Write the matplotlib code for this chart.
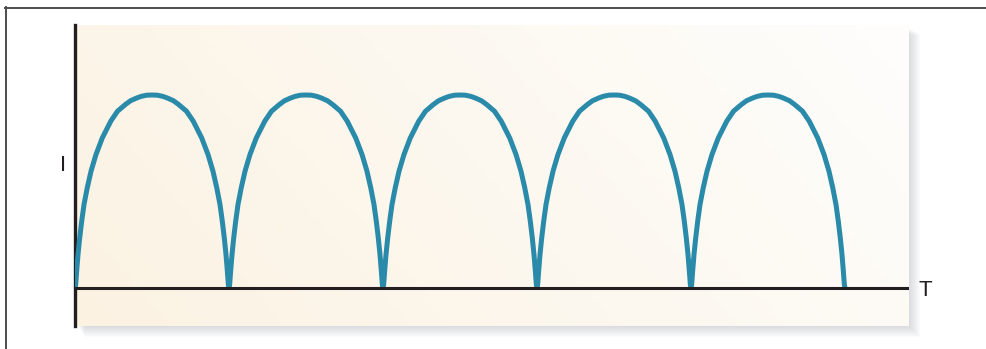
import numpy as np
import matplotlib
matplotlib.use("Agg")
import matplotlib.pyplot as plt
from matplotlib.patches import Rectangle
from matplotlib.lines import Line2D

# one rectified half cycle (T in periods, I relative to peak)
arch_t = [0.0, 0.0042, 0.0107, 0.0195, 0.0305, 0.0435, 0.0584, 0.0792, 0.104, 0.136,
          0.177, 0.232, 0.276, 0.326, 0.36, 0.399, 0.43, 0.465, 0.5,
          0.535, 0.57, 0.601, 0.64, 0.674, 0.724, 0.768, 0.823, 0.864, 0.896,
          0.9208, 0.9416, 0.9565, 0.9695, 0.9805, 0.9893, 0.9958, 1.0]
arch_i = [0.0, 0.017, 0.087, 0.173, 0.259, 0.346, 0.432, 0.518, 0.605, 0.691,
          0.777, 0.864, 0.916, 0.950, 0.970, 0.984, 0.993, 0.999, 1.0,
          0.999, 0.993, 0.984, 0.970, 0.950, 0.916, 0.864, 0.777, 0.691, 0.605,
          0.518, 0.432, 0.346, 0.259, 0.173, 0.087, 0.017, 0.0]
n_cycles = 5
x_label = "T"
y_label = "I"

W, H = 986, 349
fig = plt.figure(figsize=(W / 100, H / 100), dpi=100)
fig.patch.set_facecolor("white")

def px_box(x0, y0, x1, y1):
    return [x0 / W, 1 - y1 / H, (x1 - x0) / W, (y1 - y0) / H]

# outer frame (only left and top edges are inside the image)
fig.add_artist(Line2D([5.5 / W, 5.5 / W], [1 - 7 / H, 0], color="#4d4d4d", lw=1.4))
fig.add_artist(Line2D([5 / W, 1], [1 - 7.5 / H, 1 - 7.5 / H], color="#4d4d4d", lw=1.4))

# soft drop shadow of the panel
for k in range(1, 12):
    b = px_box(78 + k * 0.6, 28 + k * 0.6, 909 + k, 326 + k)
    fig.add_artist(Rectangle((b[0], b[1]), b[2], b[3], transform=fig.transFigure,
                             facecolor="#9aa3ad", alpha=0.035, edgecolor="none", zorder=0))

panel = px_box(75, 25, 909, 326)
ax = fig.add_axes(panel)

x_max = (909 - 75) / 154
y_min = -(326 - 288) / 193
y_max = (288 - 25) / 193

# warm-to-white gradient background
gx, gy = np.meshgrid(np.linspace(0, 1, 200), np.linspace(0, 1, 80))
g = np.clip(0.8 * gx + 0.25 * gy, 0, 1)
c0 = np.array([251, 242, 226]) / 255
c1 = np.array([254, 253, 251]) / 255
img = c0[None, None, :] * (1 - g[..., None]) + c1[None, None, :] * g[..., None]
ax.imshow(img, extent=[0, x_max, y_min, y_max], origin="lower", aspect="auto", zorder=0)

for n in range(n_cycles):
    ax.plot([t + n for t in arch_t], arch_i, color="#2a8aa9", lw=3.6,
            solid_capstyle="butt", solid_joinstyle="round", zorder=3)

ax.axhline(0, color="#231f20", lw=2.2, zorder=4)
ax.set_xlim(0, x_max)
ax.set_ylim(y_min, y_max)
for s in ["top", "right", "bottom"]:
    ax.spines[s].set_visible(False)
ax.spines["left"].set_color("#231f20")
ax.spines["left"].set_linewidth(2.4)
ax.set_xticks([])
ax.set_yticks([])

fig.text(63 / W, 1 - 166 / H, y_label, ha="center", va="center", fontsize=16,
         family="Liberation Sans", color="#231f20")
fig.text(925 / W, 1 - 291 / H, x_label, ha="center", va="center", fontsize=16,
         family="Liberation Sans", color="#231f20")

fig.savefig("out.png", dpi=100, facecolor="white")
